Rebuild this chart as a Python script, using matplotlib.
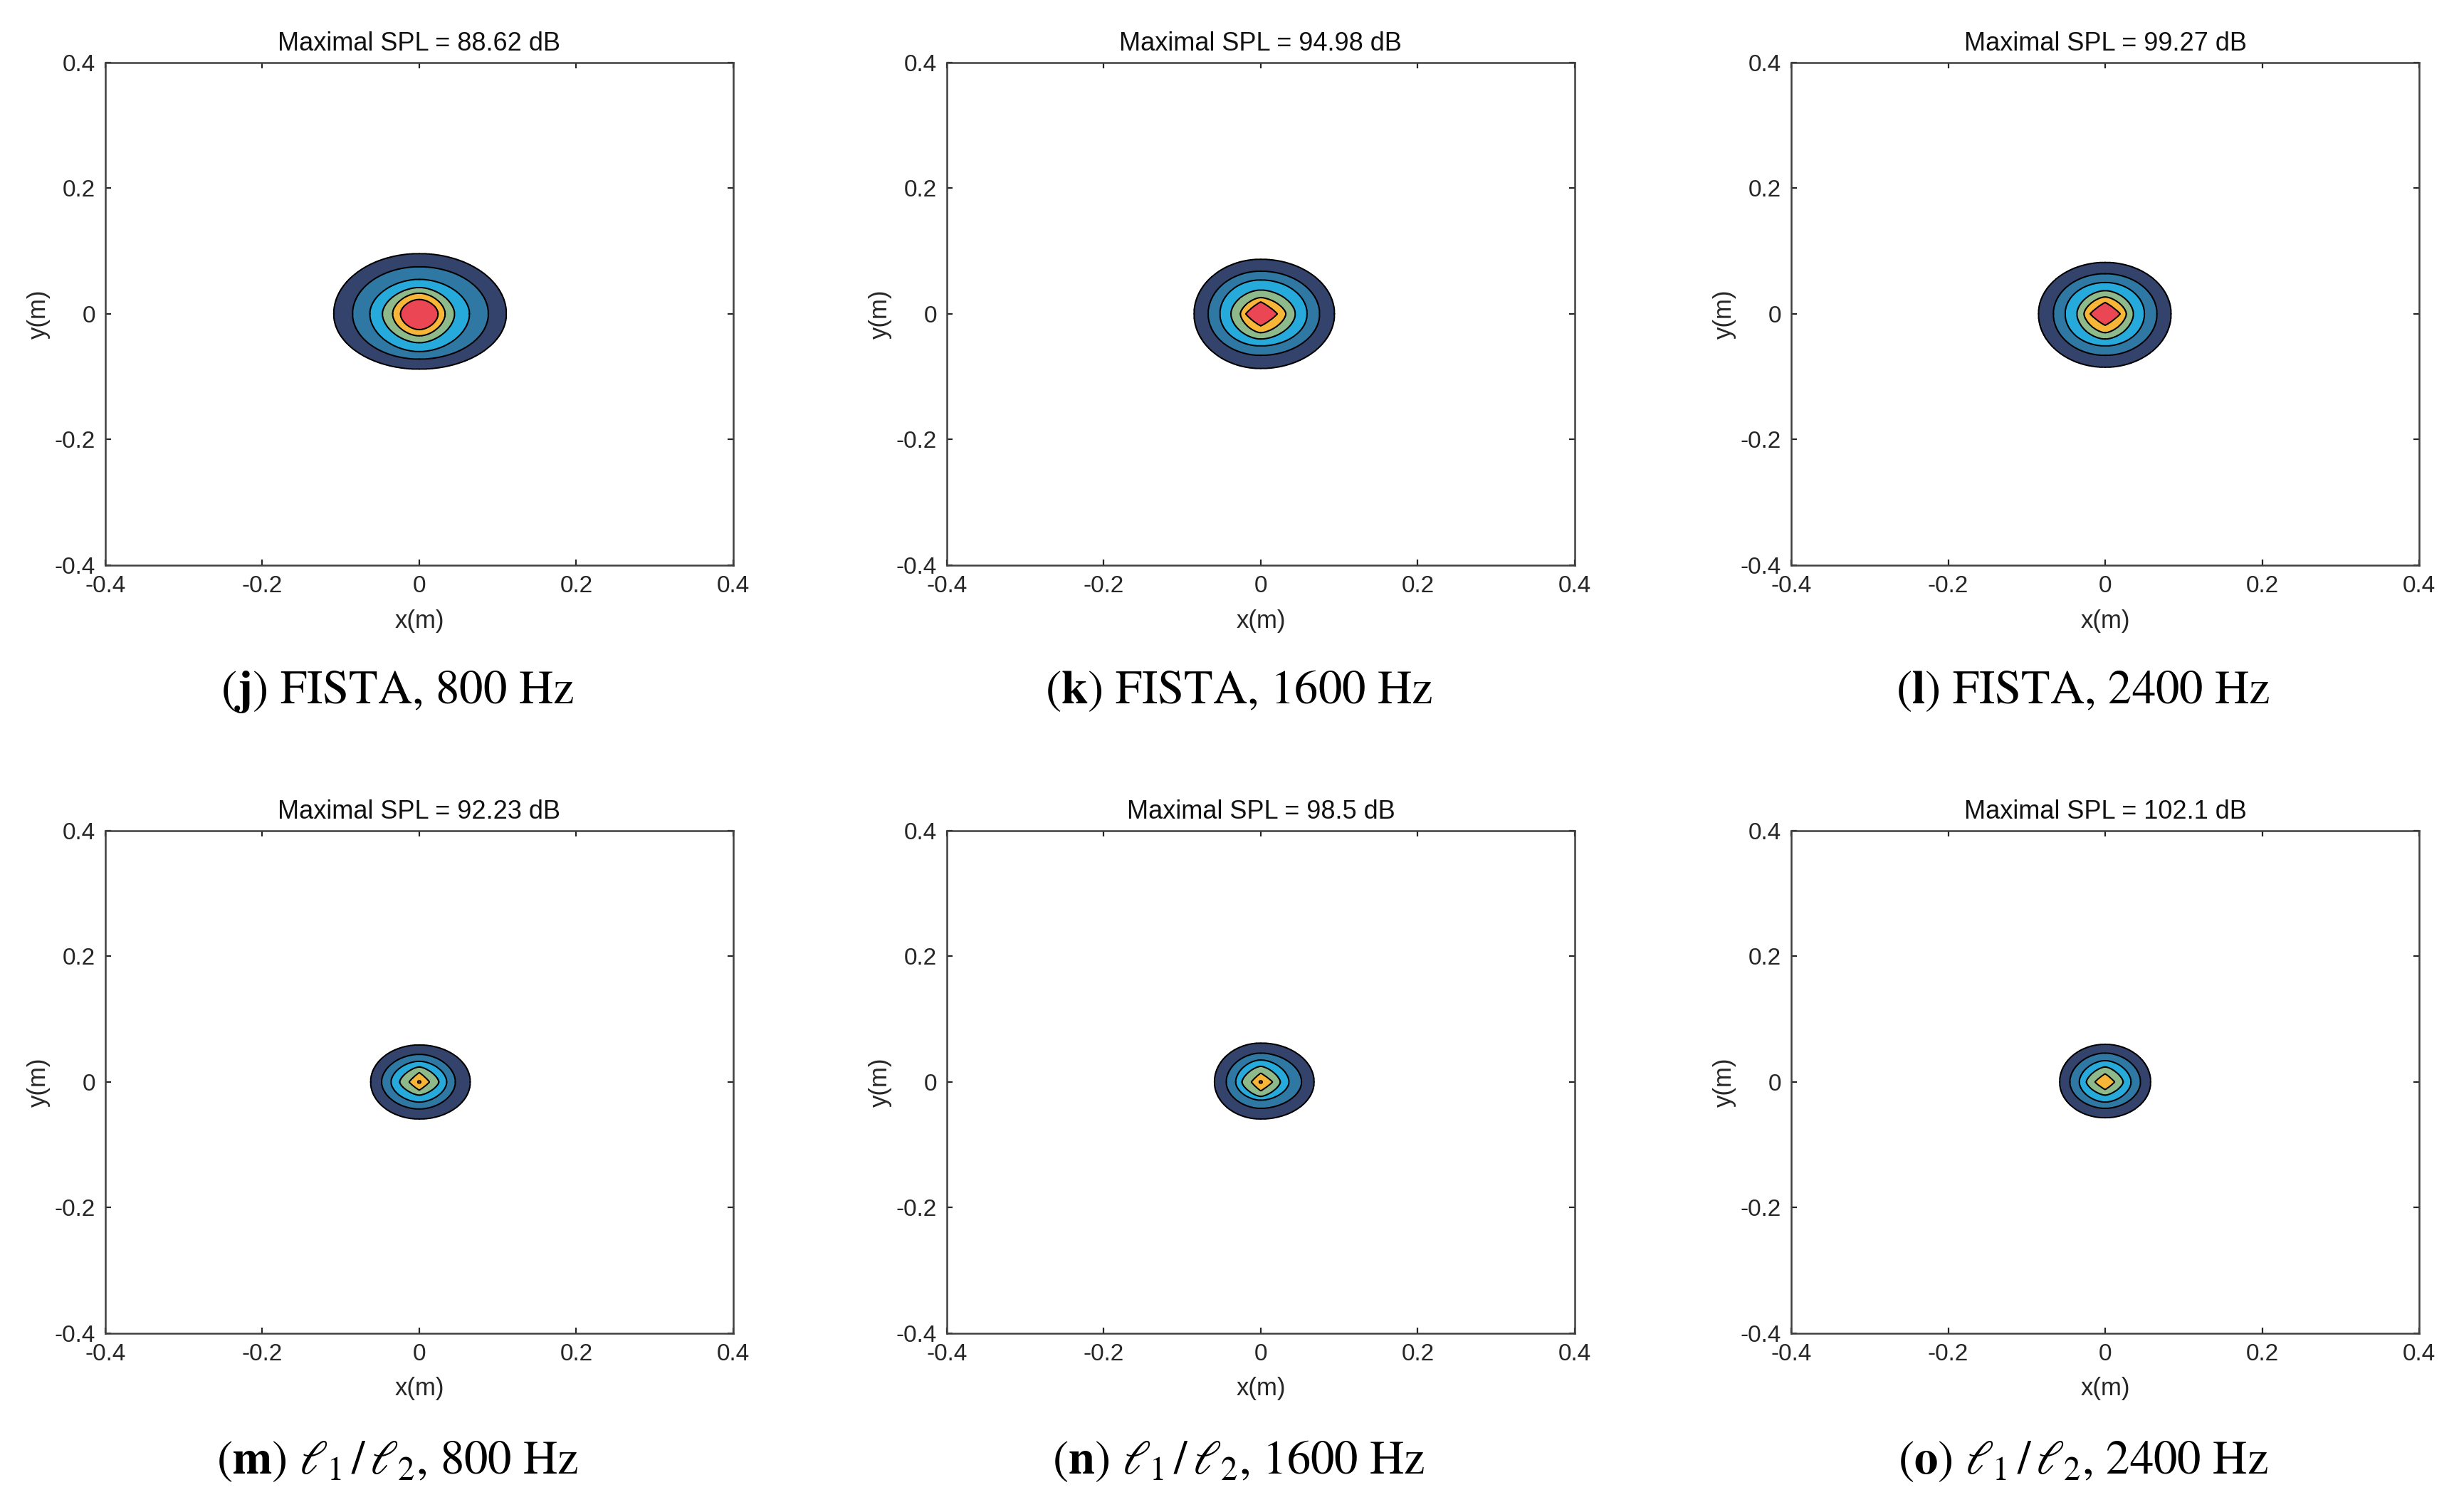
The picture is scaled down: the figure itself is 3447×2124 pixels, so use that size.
import numpy as np
import matplotlib
matplotlib.use("Agg")
import matplotlib.pyplot as plt

plt.rcParams['font.family'] = ['Liberation Sans', 'DejaVu Sans']
plt.rcParams['mathtext.fontset'] = 'stix'
plt.rcParams['axes.unicode_minus'] = False

# panel titles / captions
max_spl = ["88.62", "94.98", "99.27", "92.23", "98.5", "102.1"]
captions = [r"($\mathbf{j}$) FISTA, 800 Hz",
            r"($\mathbf{k}$) FISTA, 1600 Hz",
            r"($\mathbf{l}$) FISTA, 2400 Hz",
            r"($\mathbf{m}$) $\ell_1\,/\,\ell_2$, 800 Hz",
            r"($\mathbf{n}$) $\ell_1\,/\,\ell_2$, 1600 Hz",
            r"($\mathbf{o}$) $\ell_1\,/\,\ell_2$, 2400 Hz"]
ticks = [-0.4, -0.2, 0, 0.2, 0.4]
tick_labels = ["-0.4", "-0.2", "0", "0.2", "0.4"]

# contour extents (m), outer ring first
j_left = [0.109, 0.085, 0.063, 0.047, 0.034, 0.024]
j_right = [0.111, 0.088, 0.064, 0.045, 0.033, 0.024]
j_bottom = [0.088, 0.072, 0.060, 0.046, 0.035, 0.025]
j_top = [0.096, 0.075, 0.055, 0.042, 0.033, 0.023]
j_shape = [2.0, 2.0, 1.9, 1.8, 1.8, 1.8]

k_left = [0.085, 0.067, 0.052, 0.038, 0.026, 0.019]
k_right = [0.094, 0.075, 0.059, 0.044, 0.032, 0.021]
k_bottom = [0.087, 0.066, 0.051, 0.040, 0.030, 0.019]
k_top = [0.087, 0.068, 0.054, 0.038, 0.026, 0.019]
k_shape = [2.0, 2.0, 2.0, 1.8, 1.6, 1.15]

l_left = [0.085, 0.066, 0.051, 0.036, 0.027, 0.019]
l_right = [0.084, 0.066, 0.050, 0.036, 0.027, 0.019]
l_bottom = [0.085, 0.066, 0.051, 0.040, 0.030, 0.018]
l_top = [0.082, 0.064, 0.050, 0.037, 0.027, 0.018]
l_shape = [2.0, 2.0, 2.0, 1.8, 1.6, 1.15]

m_left = [0.062, 0.048, 0.036, 0.025, 0.013, 0.002]
m_right = [0.065, 0.046, 0.035, 0.025, 0.013, 0.002]
m_bottom = [0.059, 0.043, 0.032, 0.021, 0.013, 0.002]
m_top = [0.059, 0.044, 0.033, 0.024, 0.015, 0.002]
m_shape = [2.0, 1.9, 1.8, 1.5, 1.1, 2.0]

n_left = [0.059, 0.044, 0.032, 0.024, 0.012, 0.002]
n_right = [0.068, 0.052, 0.036, 0.025, 0.015, 0.002]
n_bottom = [0.059, 0.042, 0.029, 0.023, 0.014, 0.002]
n_top = [0.062, 0.046, 0.035, 0.025, 0.014, 0.002]
n_shape = [2.0, 1.9, 1.8, 1.5, 1.1, 2.0]

o_left = [0.058, 0.045, 0.033, 0.024, 0.013]
o_right = [0.058, 0.045, 0.033, 0.023, 0.012]
o_bottom = [0.057, 0.042, 0.032, 0.021, 0.012]
o_top = [0.060, 0.046, 0.034, 0.024, 0.013]
o_shape = [2.0, 1.9, 1.8, 1.5, 1.1]

panels = [
    (j_left, j_right, j_bottom, j_top, j_shape),
    (k_left, k_right, k_bottom, k_top, k_shape),
    (l_left, l_right, l_bottom, l_top, l_shape),
    (m_left, m_right, m_bottom, m_top, m_shape),
    (n_left, n_right, n_bottom, n_top, n_shape),
    (o_left, o_right, o_bottom, o_top, o_shape),
]

ring_colors = ["#34436c", "#2f78a3", "#26aadb", "#8db98b", "#f7b637", "#eb4654"]


def ring_field(X, Y, left, right, bottom, top, shape):
    # number of contour rings enclosing each grid point
    f = np.zeros_like(X)
    for k in range(len(left)):
        a = np.where(X < 0, left[k], right[k])
        b = np.where(Y < 0, bottom[k], top[k])
        p = shape[k]
        f += ((np.abs(X) / a) ** p + (np.abs(Y) / b) ** p) <= 1.0
    return f


g = np.linspace(-0.15, 0.15, 901)
X, Y = np.meshgrid(g, g)

fig = plt.figure(figsize=(17.24, 10.62), dpi=200)
lefts = [0.0429, 0.3857, 0.7297]
bottoms = [0.6262, 0.1182]
w, h = 0.2558, 0.3324
text_col = "#262626"

for i, (left, right, bottom, top, shape) in enumerate(panels):
    r, c = divmod(i, 3)
    ax = fig.add_axes([lefts[c], bottoms[r], w, h])
    F = ring_field(X, Y, left, right, bottom, top, shape)
    n = len(left)
    lev = np.arange(n + 1) + 0.5
    ax.contourf(X, Y, F, levels=lev, colors=ring_colors[:n])
    ax.contour(X, Y, F, levels=lev[:-1], colors="k", linewidths=0.7)
    ax.set_xlim(-0.4, 0.4)
    ax.set_ylim(-0.4, 0.4)
    ax.set_xticks(ticks)
    ax.set_yticks(ticks)
    ax.set_xticklabels(tick_labels)
    ax.set_yticklabels(tick_labels)
    ax.tick_params(direction="in", length=3, width=0.8, top=True, right=True,
                   labelsize=12, colors=text_col, pad=5)
    for s in ax.spines.values():
        s.set_color("#404040")
        s.set_linewidth(0.9)
    ax.set_xlabel("x(m)", fontsize=12.5, color=text_col, labelpad=6)
    ax.set_ylabel("y(m)", fontsize=12.5, color=text_col, labelpad=2)
    ax.set_title("Maximal SPL = " + max_spl[i] + " dB", fontsize=13,
                 color="#111111", pad=6)
    # captions sit a little left of the panel centre
    cx = lefts[c] + w / 2 - 0.009
    cy = [0.5425, 0.0330][r]
    fig.text(cx, cy, captions[i], ha="center", va="center", fontsize=24,
             family="STIXGeneral")

fig.savefig("out.png", dpi=200, facecolor="white")
